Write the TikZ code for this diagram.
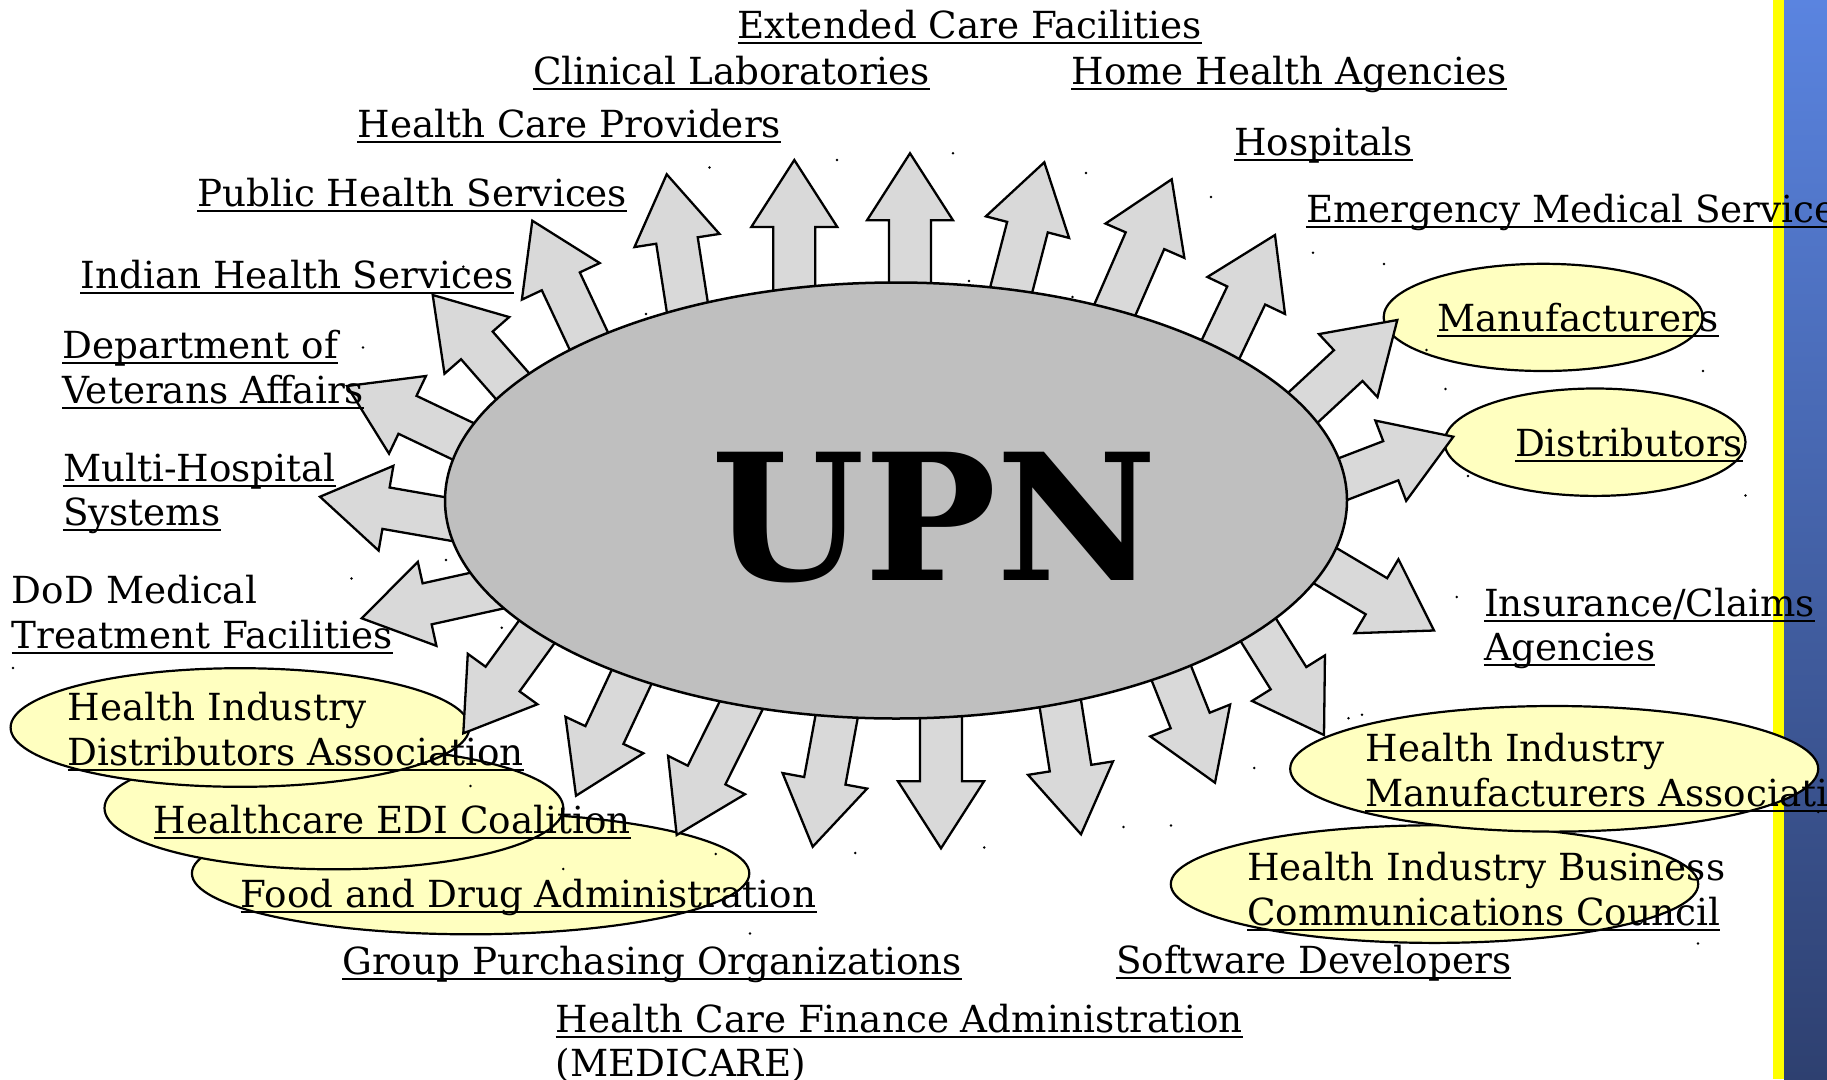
\documentclass[tikz,border=0pt]{standalone}
\usepackage{fontspec}
\setmainfont{DejaVu Serif}
\usetikzlibrary{shapes.geometric}
\definecolor{arrowgray}{RGB}{217,217,217}
\definecolor{upngray}{RGB}{191,191,191}
\definecolor{paleyellow}{RGB}{255,255,192}
\definecolor{bartop}{RGB}{90,132,224}
\definecolor{barbot}{RGB}{46,64,112}
\definecolor{barline}{RGB}{255,255,0}
\tikzset{
  arrowbox/.style={draw=black, fill=arrowgray, line width=2.3pt, line join=miter},
  oval/.style={ellipse, draw=black, fill=paleyellow, line width=2.2pt, inner sep=0pt},
  hubstyle/.style={ellipse, draw=black, fill=upngray, line width=2.5pt, inner sep=0pt},
  lbl/.style={anchor=base west, inner sep=0pt, font=\fontsize{37.3}{44.5}\selectfont},
  uline/.style={line width=2pt},
  speck/.style={fill=black},
}
\newcommand\sunarrow[5]{%
  \pgfmathsetmacro\arang{atan2(-1*(#4),#3)}%
  \begin{scope}[shift={(#1,-#2)}, rotate=\arang]
    \draw[arrowbox] (0,0) -- (-67,43) -- (-67,21) -- (-#5,21) -- (-#5,-21) -- (-67,-21) -- (-67,-43) -- cycle;
  \end{scope}}
\newcommand\ulbl[4]{%
  \node[lbl] (#1) at (#2,-#3) {#4};
  \draw[uline] ([yshift=-4.5pt]#1.base west) -- ([yshift=-4.5pt]#1.base east);}
\newcommand\plbl[4]{\node[lbl] (#1) at (#2,-#3) {#4};}
\begin{document}
\begin{tikzpicture}[x=1pt,y=1pt]
\useasboundingbox (0,0) rectangle (1827,-1079);
\clip (0,0) rectangle (1827,-1079);
\fill[white] (0,0) rectangle (1827,-1079);
% side bar
\fill[barline] (1773,0) rectangle (1784,-1079);
\shade[top color=bartop, bottom color=barbot] (1784,0) rectangle (1827,-1079);
% yellow ovals
\node[oval, minimum width=557.4pt, minimum height=121.8pt] (fdaoval) at (470.6,-873.4) {};
\node[oval, minimum width=458.8pt, minimum height=122.4pt] (edioval) at (333.9,-808.1) {};
\node[oval, minimum width=458.8pt, minimum height=118.6pt] (hidaoval) at (240,-727.5) {};
\node[oval, minimum width=527.4pt, minimum height=117.6pt] (hibccoval) at (1434.5,-884.1) {};
\node[oval, minimum width=528pt, minimum height=125.6pt] (himaoval) at (1554.2,-768.8) {};
\node[oval, minimum width=319.2pt, minimum height=107.2pt] (manuoval) at (1543.2,-317.4) {};
\node[oval, minimum width=301pt, minimum height=107.4pt] (distoval) at (1595,-442.2) {};
% arrows
\sunarrow{320}{496.7}{-66}{-11.5}{160}
\sunarrow{347}{386}{-0.903}{-0.430}{160}
\sunarrow{432.7}{295}{-43.8}{-50}{150}
\sunarrow{532.3}{220.7}{-28.9}{-61.5}{160}
\sunarrow{666.7}{174.3}{-10.3}{-66.4}{165}
\sunarrow{794.3}{160}{0}{-1}{160}
\sunarrow{910}{153.3}{0}{-1}{160}
\sunarrow{1044.3}{162.3}{17}{-65.5}{160}
\sunarrow{1171.7}{179.3}{29.7}{-68.2}{170}
\sunarrow{1275}{235}{29.2}{-61.3}{155}
\sunarrow{1397.3}{320}{49}{-45.5}{160}
\sunarrow{1453.3}{436.7}{63}{-24.2}{150}
\sunarrow{1434}{630.5}{58.3}{34.7}{160}
\sunarrow{1324}{735}{34.7}{55.5}{150}
\sunarrow{1215}{782.7}{25}{62.7}{145}
\sunarrow{1081}{834.3}{10.5}{66.3}{160}
\sunarrow{941}{848.3}{0}{1}{160}
\sunarrow{812.7}{846.7}{-12.3}{66.9}{160}
\sunarrow{676.7}{835}{-33}{66.3}{170}
\sunarrow{576}{795.7}{-28.8}{61.5}{160}
\sunarrow{463.3}{733.3}{-39.2}{54.1}{150}
\sunarrow{361.7}{618.3}{-64.7}{14.3}{155}
% hub
\node[hubstyle, minimum width=902pt, minimum height=436pt] (hub) at (896,-500.5) {};
\node[anchor=base, inner sep=0pt, font=\bfseries\fontsize{176}{180}\selectfont] (upn) at (934.5,-580) {UPN};
% labels
\ulbl{ecf}{737.5}{38.6}{Extended Care Facilities}
\ulbl{clin}{532.8}{84.4}{Clinical Laboratories}
\ulbl{hha}{1071.4}{84.4}{Home Health Agencies}
\ulbl{hcp}{357.3}{137.8}{Health Care Providers}
\ulbl{hosp}{1234}{155.7}{Hospitals}
\ulbl{phs}{197.1}{206}{Public Health Services}
\ulbl{ems}{1305.8}{222.5}{Emergency Medical Services}
\ulbl{ihs}{80.4}{288.6}{Indian Health Services}
\ulbl{manu}{1436.8}{331.3}{Manufacturers}
\ulbl{dvaa}{62.2}{358.2}{Department of}
\ulbl{dvab}{62.2}{403.6}{Veterans Affairs}
\ulbl{dist}{1514.8}{456.3}{Distributors}
\ulbl{mhsa}{62.8}{481.5}{Multi-Hospital}
\ulbl{mhsb}{62.8}{525.2}{Systems}
\plbl{doda}{11.7}{603.6}{DoD Medical}
\ulbl{dodb}{11.7}{648.3}{Treatment Facilities}
\ulbl{insa}{1484}{616.5}{Insurance/Claims}
\ulbl{insb}{1484}{660.3}{Agencies}
\plbl{hidaa}{67.5}{720.5}{Health Industry}
\ulbl{hidab}{67.5}{765.2}{Distributors Association}
\ulbl{edi}{153.7}{833.9}{Healthcare EDI Coalition}
\ulbl{fda}{240.6}{907.1}{Food and Drug Administration}
\ulbl{gpo}{342.1}{974.8}{Group Purchasing Organizations}
\ulbl{hcfaa}{555.7}{1032.2}{Health Care Finance Administration}
\plbl{hcfab}{555.7}{1076.3}{(MEDICARE)}
\ulbl{soft}{1115.8}{973.8}{Software Developers}
\plbl{hibcca}{1247}{880.3}{Health Industry Business}
\ulbl{hibccb}{1247}{925}{Communications Council}
\plbl{himaa}{1365.3}{761.7}{Health Industry}
\ulbl{himab}{1365.3}{806.4}{Manufacturers Association}
% specks
\foreach \px/\py in {709.5/167.5, 571/204, 463.3/266.7, 363/347.5, 646/314, 446/560, 351.5/578.5,
  837/160, 953/153.3, 1086/173, 1211/197, 969/281, 1072.5/297, 1313/252.7, 1384/264, 1426.5/350,
  1445.5/389, 1468/476, 1456.7/597, 1703/371, 1745.4/495.5, 1818.3/812, 501.7/627.7, 470.5/786,
  563.3/869, 715.7/854, 750/933.5, 613.3/815, 13/668, 855.3/853, 984.3/847.5, 1123.4/827,
  1171/825.5, 1348.5/718.3, 1362/714.8, 1254.3/768, 1698/943.5}
  \fill[speck] (\px,-\py) circle (1.4);
\end{tikzpicture}
\end{document}
